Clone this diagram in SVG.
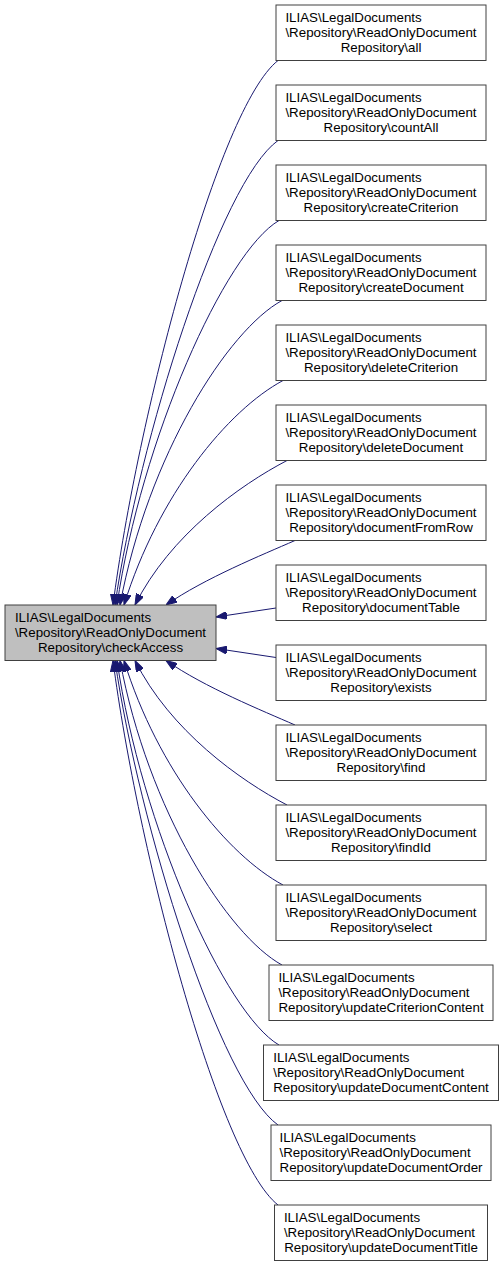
<svg xmlns="http://www.w3.org/2000/svg" width="504" height="1267" viewBox="0 0 504 1267">
<defs>
<style>
.n rect{fill:#ffffff;stroke:#404040;stroke-width:1}
.m rect{fill:#bfbfbf;stroke:#404040;stroke-width:1}
text{font-family:"Liberation Sans",Arial,Helvetica,sans-serif;font-size:13.33px;fill:#000000}
.c{text-anchor:middle}
.e path{fill:none;stroke:#191970;stroke-width:1;marker-end:url(#arr)}
</style>
<marker id="arr" markerWidth="11" markerHeight="8" refX="11" refY="4" orient="auto" markerUnits="userSpaceOnUse">
<path d="M0,0 L11,4 L0,8 z" fill="#191970" stroke="#191970" stroke-width="1"/>
</marker>
</defs>
<rect x="0" y="0" width="504" height="1267" fill="#ffffff"/>
<g id="connectors" class="e">
<path d="M278,60.5 C218,108 137,420 113,605"/>
<path d="M278,140.5 C220,182 139,440 115,605"/>
<path d="M279,220.5 C225,252 141,440 117,605"/>
<path d="M282,300.5 C228,330 148,455 120,605"/>
<path d="M283,380.5 C228,410 158,495 124,605"/>
<path d="M287,460.5 C240,485 170,535 135,605"/>
<path d="M295,540.5 C262,555 205,578 166,605"/>
<path d="M276,608 L216,617"/>
<path d="M276,657.5 L216,648.5"/>
<path d="M295,725 C262,710.5 205,687.5 166,660.5"/>
<path d="M287,805 C240,780.5 170,730.5 135,660.5"/>
<path d="M283,885 C228,855.5 158,770.5 124,660.5"/>
<path d="M282,965 C228,935.5 148,810.5 120,660.5"/>
<path d="M279,1045 C225,1013.5 141,825.5 117,660.5"/>
<path d="M278,1125 C220,1083.5 139,825.5 115,660.5"/>
<path d="M278,1205 C218,1157.5 137,845.5 113,660.5"/>
</g>
<g id="checkAccess" class="m">
<rect x="5" y="605" width="211" height="55.5"/>
<text x="14.9" y="622.3">ILIAS\LegalDocuments</text>
<text x="14.9" y="637">\Repository\ReadOnlyDocument</text>
<text class="c" x="110.5" y="651.7">Repository\checkAccess</text>
</g>
<g id="all" class="n">
<rect x="276" y="5" width="210" height="55.5"/>
<text x="285.4" y="22.3">ILIAS\LegalDocuments</text>
<text x="285.4" y="37">\Repository\ReadOnlyDocument</text>
<text class="c" x="381" y="51.7">Repository\all</text>
</g>
<g id="countAll" class="n">
<rect x="276" y="85" width="210" height="55.5"/>
<text x="285.4" y="102.3">ILIAS\LegalDocuments</text>
<text x="285.4" y="117">\Repository\ReadOnlyDocument</text>
<text class="c" x="381" y="131.7">Repository\countAll</text>
</g>
<g id="createCriterion" class="n">
<rect x="276" y="165" width="210" height="55.5"/>
<text x="285.4" y="182.3">ILIAS\LegalDocuments</text>
<text x="285.4" y="197">\Repository\ReadOnlyDocument</text>
<text class="c" x="381" y="211.7">Repository\createCriterion</text>
</g>
<g id="createDocument" class="n">
<rect x="276" y="245" width="210" height="55.5"/>
<text x="285.4" y="262.3">ILIAS\LegalDocuments</text>
<text x="285.4" y="277">\Repository\ReadOnlyDocument</text>
<text class="c" x="381" y="291.7">Repository\createDocument</text>
</g>
<g id="deleteCriterion" class="n">
<rect x="276" y="325" width="210" height="55.5"/>
<text x="285.4" y="342.3">ILIAS\LegalDocuments</text>
<text x="285.4" y="357">\Repository\ReadOnlyDocument</text>
<text class="c" x="381" y="371.7">Repository\deleteCriterion</text>
</g>
<g id="deleteDocument" class="n">
<rect x="276" y="405" width="210" height="55.5"/>
<text x="285.4" y="422.3">ILIAS\LegalDocuments</text>
<text x="285.4" y="437">\Repository\ReadOnlyDocument</text>
<text class="c" x="381" y="451.7">Repository\deleteDocument</text>
</g>
<g id="documentFromRow" class="n">
<rect x="276" y="485" width="210" height="55.5"/>
<text x="285.4" y="502.3">ILIAS\LegalDocuments</text>
<text x="285.4" y="517">\Repository\ReadOnlyDocument</text>
<text class="c" x="381" y="531.7">Repository\documentFromRow</text>
</g>
<g id="documentTable" class="n">
<rect x="276" y="565" width="210" height="55.5"/>
<text x="285.4" y="582.3">ILIAS\LegalDocuments</text>
<text x="285.4" y="597">\Repository\ReadOnlyDocument</text>
<text class="c" x="381" y="611.7">Repository\documentTable</text>
</g>
<g id="exists" class="n">
<rect x="276" y="645" width="210" height="55.5"/>
<text x="285.4" y="662.3">ILIAS\LegalDocuments</text>
<text x="285.4" y="677">\Repository\ReadOnlyDocument</text>
<text class="c" x="381" y="691.7">Repository\exists</text>
</g>
<g id="find" class="n">
<rect x="276" y="725" width="210" height="55.5"/>
<text x="285.4" y="742.3">ILIAS\LegalDocuments</text>
<text x="285.4" y="757">\Repository\ReadOnlyDocument</text>
<text class="c" x="381" y="771.7">Repository\find</text>
</g>
<g id="findId" class="n">
<rect x="276" y="805" width="210" height="55.5"/>
<text x="285.4" y="822.3">ILIAS\LegalDocuments</text>
<text x="285.4" y="837">\Repository\ReadOnlyDocument</text>
<text class="c" x="381" y="851.7">Repository\findId</text>
</g>
<g id="select" class="n">
<rect x="276" y="885" width="210" height="55.5"/>
<text x="285.4" y="902.3">ILIAS\LegalDocuments</text>
<text x="285.4" y="917">\Repository\ReadOnlyDocument</text>
<text class="c" x="381" y="931.7">Repository\select</text>
</g>
<g id="updateCriterionContent" class="n">
<rect x="269" y="965" width="224" height="55.5"/>
<text x="278.4" y="982.3">ILIAS\LegalDocuments</text>
<text x="278.4" y="997">\Repository\ReadOnlyDocument</text>
<text class="c" x="381" y="1011.7">Repository\updateCriterionContent</text>
</g>
<g id="updateDocumentContent" class="n">
<rect x="263.5" y="1045" width="235" height="55.5"/>
<text x="273.2" y="1062.3">ILIAS\LegalDocuments</text>
<text x="273.2" y="1077">\Repository\ReadOnlyDocument</text>
<text class="c" x="381" y="1091.7">Repository\updateDocumentContent</text>
</g>
<g id="updateDocumentOrder" class="n">
<rect x="271" y="1125" width="220" height="55.5"/>
<text x="279.5" y="1142.3">ILIAS\LegalDocuments</text>
<text x="279.5" y="1157">\Repository\ReadOnlyDocument</text>
<text class="c" x="381" y="1171.7">Repository\updateDocumentOrder</text>
</g>
<g id="updateDocumentTitle" class="n">
<rect x="274.5" y="1205" width="213" height="55.5"/>
<text x="283.9" y="1222.3">ILIAS\LegalDocuments</text>
<text x="283.9" y="1237">\Repository\ReadOnlyDocument</text>
<text class="c" x="381" y="1251.7">Repository\updateDocumentTitle</text>
</g>
</svg>
